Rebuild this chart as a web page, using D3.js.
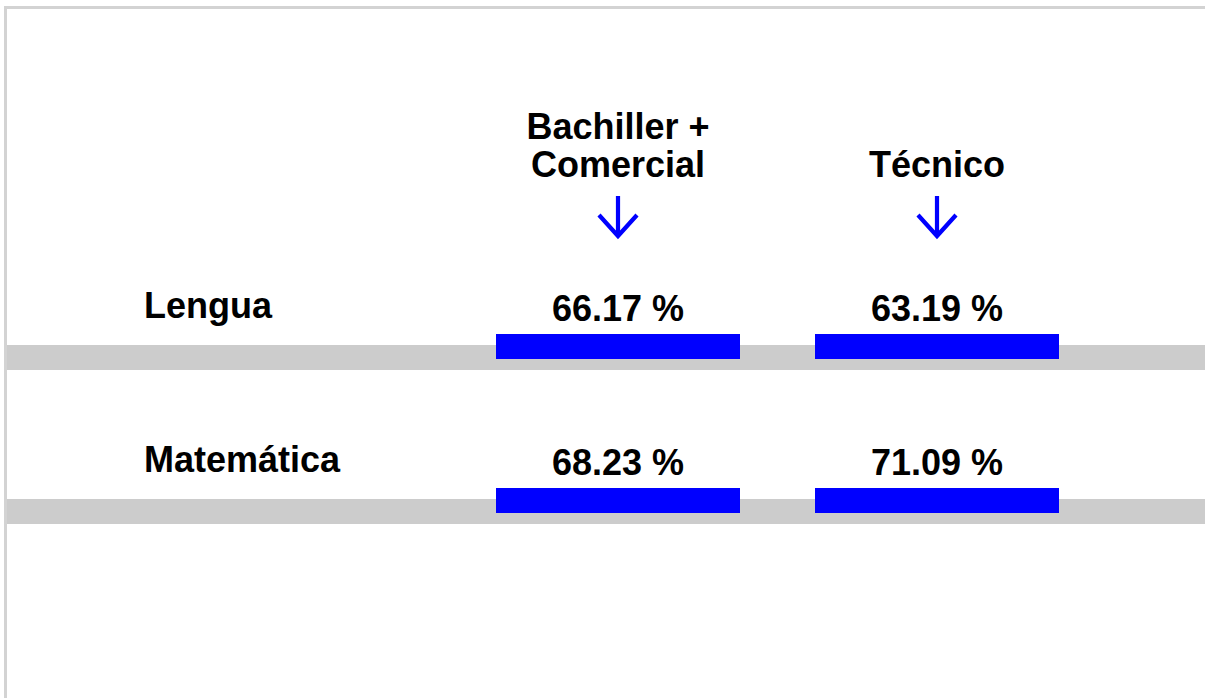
<!DOCTYPE html>
<html>
<head>
<meta charset="utf-8">
<script src="https://cdn.jsdelivr.net/npm/d3@7/dist/d3.min.js"></script>
<style>
  html, body { margin: 0; padding: 0; background: #fff; overflow: hidden; }
  svg { display: block; }
  text { font-family: "Liberation Sans", Arial, Helvetica, sans-serif; font-weight: bold; fill: #000; }
</style>
</head>
<body>
<svg id="chart" width="1205" height="698"></svg>
<script>
// ---- data ----
const groups = ["Bachiller + Comercial", "Técnico"];
const groupLines = [["Bachiller +", "Comercial"], ["Técnico"]];
const subjects = ["Lengua", "Matemática"];
const valuesBachiller = [66.17, 68.23];
const valuesTecnico = [63.19, 71.09];

const W = 1205, H = 698;
const svg = d3.select("#chart");

// frame
svg.append("rect")
  .attr("x", 5.5).attr("y", 7.5)
  .attr("width", W + 20).attr("height", H + 20)
  .attr("fill", "none").attr("stroke", "#d3d3d3").attr("stroke-width", 3);

// scales
const x = d3.scaleBand().domain(groups).range([496, 1059]).paddingInner(75 / 319).paddingOuter(0);
const y = d3.scalePoint().domain(subjects).range([345, 499]);

const fontSize = 36;

// gray bands
svg.selectAll("rect.band").data(subjects).join("rect")
  .attr("class", "band")
  .attr("x", 7).attr("y", d => y(d))
  .attr("width", W - 7).attr("height", 25)
  .attr("fill", "#cccccc");

// headers
groups.forEach((g, gi) => {
  const lines = groupLines[gi];
  const cx = x(g) + x.bandwidth() / 2;
  const t = svg.append("text").attr("text-anchor", "middle").attr("font-size", fontSize);
  lines.forEach((ln, li) => {
    t.append("tspan").attr("x", cx)
      .attr("y", 177 - (lines.length - 1 - li) * 38.5)
      .text(ln);
  });
  // arrow
  const top = 196, bot = 238;
  svg.append("path")
    .attr("d", `M${cx},${top}V${bot - 1}M${cx - 19},${bot - 23}L${cx},${bot - 2}L${cx + 19},${bot - 23}`)
    .attr("fill", "none").attr("stroke", "#0000ff").attr("stroke-width", 4.2);
});

// subject labels
svg.selectAll("text.subj").data(subjects).join("text")
  .attr("class", "subj")
  .attr("x", 144)
  .attr("y", d => y(d) - 27)
  .attr("font-size", fontSize)
  .text(d => d);

// bars + values
const seriesVals = [valuesBachiller, valuesTecnico];
groups.forEach((g, gi) => {
  const vals = seriesVals[gi];
  svg.selectAll(null).data(subjects).join("rect")
    .attr("x", x(g)).attr("y", d => y(d) - 11)
    .attr("width", x.bandwidth()).attr("height", 25)
    .attr("fill", "#0000ff");
  svg.selectAll(null).data(subjects).join("text")
    .attr("x", x(g) + x.bandwidth() / 2)
    .attr("y", d => y(d) - 24)
    .attr("text-anchor", "middle")
    .attr("font-size", fontSize)
    .text((d, i) => vals[i].toFixed(2) + " %");
});
</script>
</body>
</html>
